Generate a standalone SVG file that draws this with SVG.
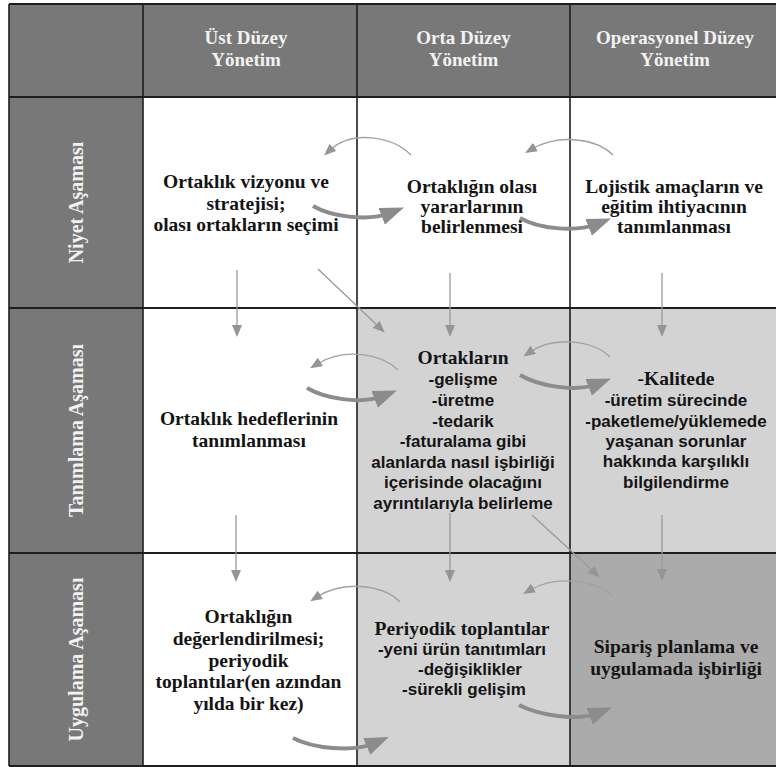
<svg xmlns="http://www.w3.org/2000/svg" width="776" height="767" viewBox="0 0 776 767">
  <style>
    .hdr { fill: #787878; }
    .lt { fill: #d3d3d3; }
    .md { fill: #ababab; }
    .grid { stroke: #1e1e1e; stroke-width: 1.6; fill: none; }
    .hgrid { stroke: #1e1e1e; stroke-width: 2.2; fill: none; }
    .ht { font-family: "Liberation Serif", "Times New Roman", serif; font-weight: bold; font-size: 19px; fill: #f2f2f2; text-anchor: middle; }
    .rl { font-family: "Liberation Serif", "Times New Roman", serif; font-weight: bold; font-size: 20px; fill: #f2f2f2; text-anchor: middle; }
    .sf { font-family: "Liberation Serif", "Times New Roman", serif; font-weight: bold; font-size: 19.5px; fill: #141414; text-anchor: middle; }
    .ss { font-family: "Liberation Sans", Arial, sans-serif; font-weight: bold; font-size: 17px; fill: #141414; text-anchor: middle; }
    .thick { stroke: #8c8c8c; stroke-width: 4; fill: none; marker-end: url(#big); }
    .thin { stroke: #a2a2a2; stroke-width: 1.4; fill: none; marker-end: url(#small); }
    .down { stroke: #9a9a9a; stroke-width: 1.3; fill: none; marker-end: url(#small); }
  </style>
  <defs>
    <marker id="big" markerUnits="userSpaceOnUse" markerWidth="24" markerHeight="18" refX="9" refY="9" orient="auto">
      <path d="M0,0 L24,9 L0,18 z" fill="#8c8c8c"/>
    </marker>
    <marker id="small" markerUnits="userSpaceOnUse" markerWidth="12" markerHeight="10" refX="4" refY="5" orient="auto">
      <path d="M0,0 L12,5 L0,10 z" fill="#959595"/>
    </marker>
  </defs>

  <!-- cell backgrounds -->
  <rect x="0" y="0" width="776" height="767" fill="#ffffff"/>
  <rect class="hdr" x="9" y="4" width="767" height="93"/>
  <rect class="hdr" x="9" y="97" width="134" height="669"/>
  <rect class="lt" x="357" y="308" width="419" height="245"/>
  <rect class="lt" x="357" y="553" width="213" height="213"/>
  <rect class="md" x="570" y="553" width="206" height="213"/>

  <!-- table rules -->
  <g id="grid">
    <path class="hgrid" d="M9,4 H776 M9,97 H776 M9,308 H776 M9,553 H776 M9,766 H776"/>
    <path class="grid" d="M9,4 V766 M143,4 V766 M357,4 V766 M570,4 V766"/>
  </g>

  <!-- column headers -->
  <g id="head-ust">
    <text class="ht" x="246" y="44">Üst Düzey</text>
    <text class="ht" x="246" y="66">Yönetim</text>
  </g>
  <g id="head-orta">
    <text class="ht" x="463.5" y="44">Orta Düzey</text>
    <text class="ht" x="463.5" y="66">Yönetim</text>
  </g>
  <g id="head-operasyonel">
    <text class="ht" x="675" y="44">Operasyonel Düzey</text>
    <text class="ht" x="675" y="66">Yönetim</text>
  </g>

  <!-- row labels -->
  <g id="row-niyet">
    <text class="rl" transform="translate(83,202.5) rotate(-90)">Niyet Aşaması</text>
  </g>
  <g id="row-tanimlama">
    <text class="rl" transform="translate(83,430.5) rotate(-90)">Tanımlama Aşaması</text>
  </g>
  <g id="row-uygulama">
    <text class="rl" transform="translate(83,659.5) rotate(-90)">Uygulama Aşaması</text>
  </g>

  <!-- row 1 -->
  <g id="vizyon">
    <text class="sf" x="246" y="188">Ortaklık vizyonu ve</text>
    <text class="sf" x="246" y="209.5">stratejisi;</text>
    <text class="sf" x="246" y="231">olası ortakların seçimi</text>
  </g>
  <g id="yararlar">
    <text class="sf" x="472" y="192.5">Ortaklığın olası</text>
    <text class="sf" x="472" y="213">yararlarının</text>
    <text class="sf" x="472" y="233">belirlenmesi</text>
  </g>
  <g id="lojistik">
    <text class="sf" x="674" y="192.5">Lojistik amaçların ve</text>
    <text class="sf" x="674" y="212.5">eğitim ihtiyacının</text>
    <text class="sf" x="674" y="232.5">tanımlanması</text>
  </g>

  <!-- row 2 -->
  <g id="hedefler">
    <text class="sf" x="249" y="425">Ortaklık hedeflerinin</text>
    <text class="sf" x="249" y="447">tanımlanması</text>
  </g>
  <g id="ortaklarin">
    <text class="sf" x="463" y="364">Ortakların</text>
    <text class="ss" x="463" y="385">-gelişme</text>
    <text class="ss" x="463" y="405.5">-üretme</text>
    <text class="ss" x="463" y="426.5">-tedarik</text>
    <text class="ss" x="463" y="447">-faturalama gibi</text>
    <text class="ss" x="463" y="467.5">alanlarda nasıl işbirliği</text>
    <text class="ss" x="463" y="488">içerisinde olacağını</text>
    <text class="ss" x="463" y="509">ayrıntılarıyla belirleme</text>
  </g>
  <g id="kalitede">
    <text class="sf" x="676" y="385">-Kalitede</text>
    <text class="ss" x="676" y="406">-üretim sürecinde</text>
    <text class="ss" x="676" y="426.5">-paketleme/yüklemede</text>
    <text class="ss" x="676" y="446.5">yaşanan sorunlar</text>
    <text class="ss" x="676" y="467">hakkında karşılıklı</text>
    <text class="ss" x="676" y="488">bilgilendirme</text>
  </g>

  <!-- row 3 -->
  <g id="degerlendirme">
    <text class="sf" x="248.5" y="623">Ortaklığın</text>
    <text class="sf" x="248.5" y="645">değerlendirilmesi;</text>
    <text class="sf" x="248.5" y="666.5">periyodik</text>
    <text class="sf" x="248.5" y="688">toplantılar(en azından</text>
    <text class="sf" x="248.5" y="710">yılda bir kez)</text>
  </g>
  <g id="toplantilar">
    <text class="sf" x="462" y="635">Periyodik toplantılar</text>
    <text class="ss" x="462" y="655">-yeni ürün tanıtımları</text>
    <text class="ss" x="470" y="675">-değişiklikler</text>
    <text class="ss" x="464" y="695">-sürekli gelişim</text>
  </g>
  <g id="siparis">
    <text class="sf" x="676" y="653">Sipariş planlama ve</text>
    <text class="sf" x="676" y="675">uygulamada işbirliği</text>
  </g>

  <!-- connectors -->
  <g id="connectors">
    <!-- forward arcs between columns -->
    <path class="thick" d="M313,206 C330,216 367,222 390,213"/>
    <path class="thick" d="M520,218 C537,228 574,233 597,224"/>
    <path class="thick" d="M307,388 C324,398 360,405 383,396"/>
    <path class="thick" d="M520,375 C537,385 574,393 597,384"/>
    <path class="thick" d="M293,738 C312,748 352,753 375,743"/>
    <path class="thick" d="M519,705 C536,714 575,722 598,713"/>
    <!-- feedback arcs -->
    <path class="thin" d="M411,155 C392,136 352,130 330,150"/>
    <path class="thin" d="M613,155 C597,139 560,133 532,149"/>
    <path class="thin" d="M398,370 C382,354 345,347 317,364"/>
    <path class="thin" d="M610,357 C594,341 555,335 530,352"/>
    <path class="thin" d="M400,602 C385,586 345,579 317,597"/>
    <path class="thin" d="M613,597 C598,581 558,574 530,590"/>
    <!-- phase-to-phase arrows -->
    <path class="down" d="M237,270 V329"/>
    <path class="down" d="M236,515 V574"/>
    <path class="down" d="M450,273 V329"/>
    <path class="down" d="M450,513 V574"/>
    <path class="down" d="M662,273 V329"/>
    <path class="down" d="M662,515 V573"/>
    <path class="down" d="M318,269 L379,327"/>
    <path class="down" d="M532,515 L594,572"/>
  </g>
</svg>
